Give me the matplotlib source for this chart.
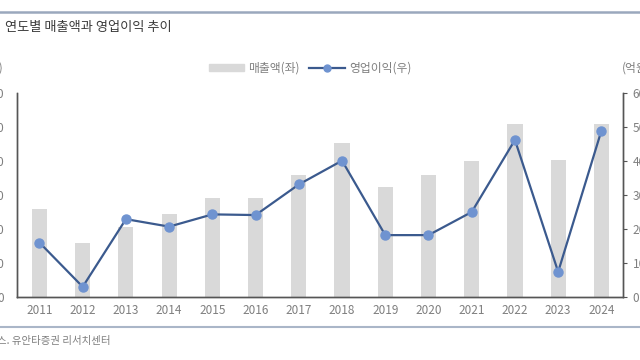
import matplotlib
matplotlib.use("Agg")
import matplotlib.pyplot as plt
from matplotlib.lines import Line2D
from matplotlib.patches import Patch

plt.rcParams['font.family'] = ['Noto Sans CJK KR', 'DejaVu Sans']

years = ['2011', '2012', '2013', '2014', '2015', '2016', '2017',
         '2018', '2019', '2020', '2021', '2022', '2023', '2024']
sales = [1300, 800, 1030, 1215, 1450, 1450, 1795, 2260, 1620, 1795, 2000, 2545, 2015, 2550]
op_profit = [16, 3, 22.9, 20.7, 24.3, 24.1, 33.1, 40.1, 18.2, 18.2, 25.0, 46.2, 7.4, 48.9]
left_ticks = [0, 500, 1000, 1500, 2000, 2500, 3000]
right_ticks = [0, 10, 20, 30, 40, 50, 60]

bar_col = '#d9d9d9'
line_col = '#3b5a8e'
mark_col = '#6f93d0'
txt_col = '#7f7f7f'
spine_col = '#555555'

fig = plt.figure(figsize=(6.4, 3.6), dpi=100)
ax = fig.add_axes([17/640, 1 - 297/360, (623 - 17)/640, (297 - 93)/360])
ax2 = ax.twinx()

x = list(range(len(years)))
ax.bar(x, sales, width=0.35, color=bar_col, zorder=1)
ax2.plot(x, op_profit, color=line_col, lw=1.6, marker='o', ms=6.5,
         mfc=mark_col, mec=mark_col, zorder=3)

ax.set_xlim(-0.52, 13.5)
ax.set_ylim(0, 3000)
ax2.set_ylim(0, 60)
ax.set_xticks(x)
ax.set_xticklabels(years)
ax.set_yticks(left_ticks)
ax.set_yticklabels([f'{v:,}' for v in left_ticks])
ax2.set_yticks(right_ticks)

for a in (ax, ax2):
    a.spines['top'].set_visible(False)
    for s in ('left', 'right', 'bottom'):
        a.spines[s].set_color(spine_col)
        a.spines[s].set_linewidth(1.0)
    a.tick_params(colors=txt_col, labelsize=8.5, length=0)
ax.tick_params(axis='y', pad=9)
ax2.tick_params(axis='y', length=3, color=spine_col, pad=4)
ax.tick_params(axis='x', pad=5)

# header / footer
fig.add_artist(Line2D([0, 1], [1 - 12/360] * 2, color='#9aa8bd', lw=1.8))
fig.add_artist(Line2D([0, 1], [1 - 327/360] * 2, color='#aab6c8', lw=1.5))
fig.text(5/640, 1 - 28/360, '연도별 매출액과 영업이익 추이', fontsize=9.5,
         fontweight='medium', color='#3a3a3a', va='center', ha='left')
fig.text(-3/640, 1 - 341/360, '스. 유안타증권 리서치센터', fontsize=7.5,
         color=txt_col, va='center', ha='left')
fig.text(4/640, 1 - 68/360, '(억원)', fontsize=8.5, color=txt_col,
         va='center', ha='right')
fig.text(622/640, 1 - 68/360, '(억원)', fontsize=8.5, color=txt_col,
         va='center', ha='left')

handles = [Patch(color=bar_col),
           Line2D([], [], color=line_col, lw=1.6, marker='o', ms=5,
                  mfc=mark_col, mec=mark_col)]
fig.legend(handles, ['매출액(좌)', '영업이익(우)'], loc='center',
           bbox_to_anchor=(310/640, 1 - 68/360), ncol=2, frameon=False,
           fontsize=8.5, labelcolor=txt_col, handlelength=3.0,
           handleheight=0.6, columnspacing=0.8, handletextpad=0.35)

fig.savefig('out.png', dpi=100)
